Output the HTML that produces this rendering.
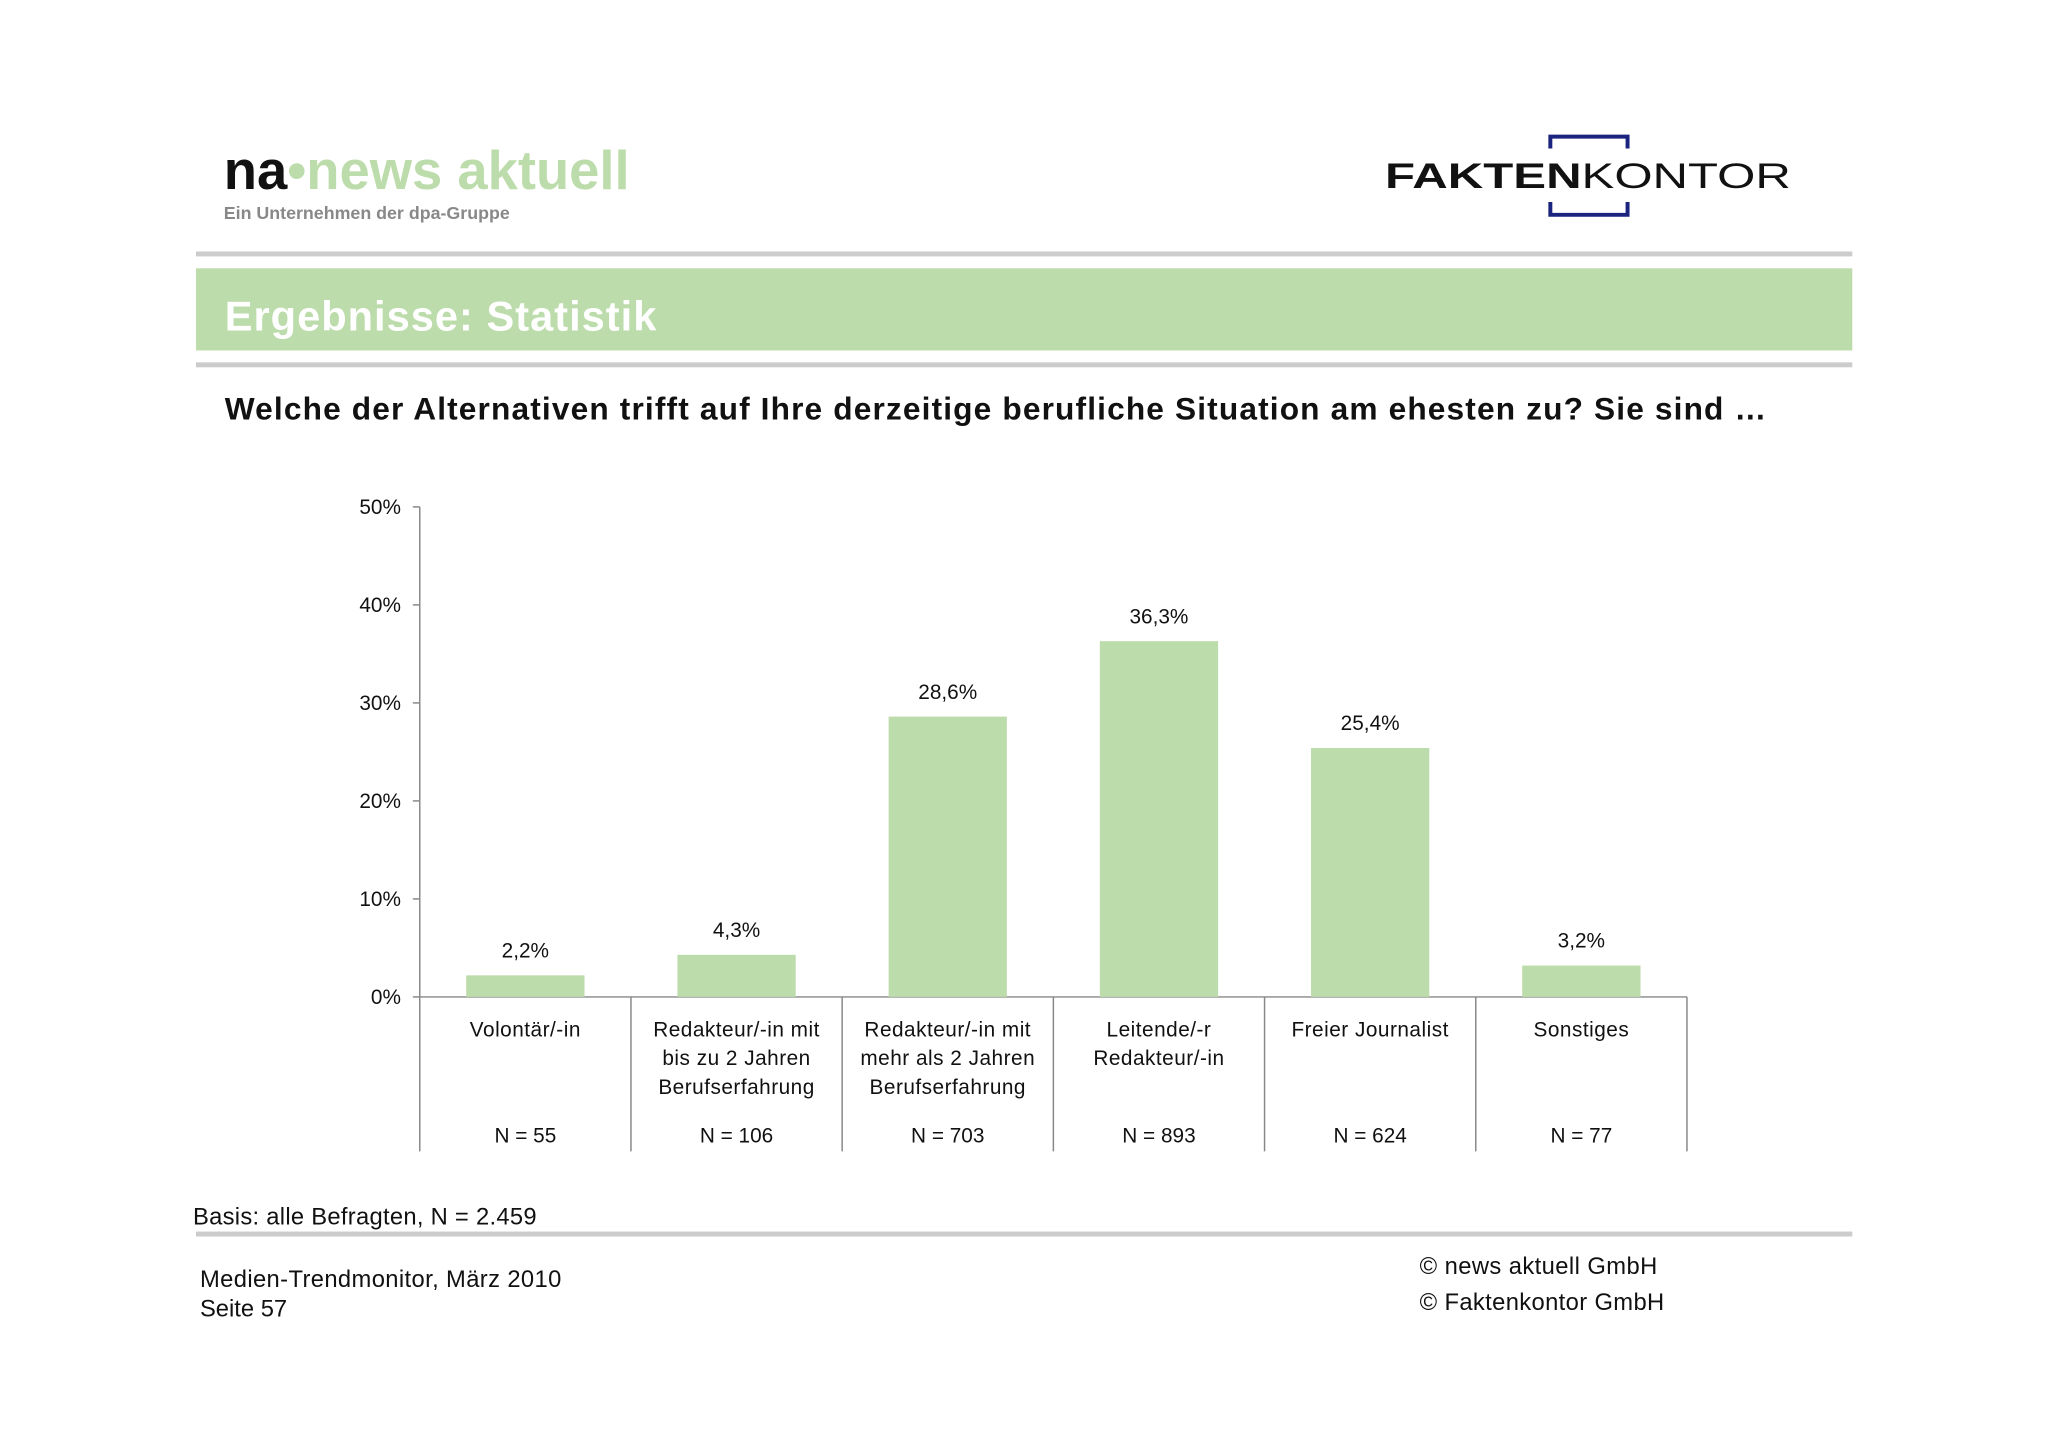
<!DOCTYPE html>
<html><head><meta charset="utf-8"><style>
body{margin:0;background:#fff;}
svg{display:block;font-family:"Liberation Sans",Arial,sans-serif;}
</style></head><body>
<svg width="2048" height="1447" viewBox="0 0 2048 1447">
<g transform="scale(0.99)">
<g>
<text x="226" y="191" font-size="55" font-weight="bold" fill="#111" textLength="410" lengthAdjust="spacingAndGlyphs">na<tspan fill="#bddcab">•news aktuell</tspan></text>
<text x="226" y="221" font-size="18" font-weight="bold" fill="#888">Ein Unternehmen der dpa-Gruppe</text>
</g>
<g>
<path d="M1566 150 V138 H1644 V150 M1566 204 V217 H1644 V204" fill="none" stroke="#1a237e" stroke-width="4"/>
<text x="1399" y="190" font-size="36" fill="#111" textLength="410" lengthAdjust="spacingAndGlyphs"><tspan font-weight="bold">FAKTEN</tspan>KONTOR</text>
</g>
<rect x="198" y="254" width="1673" height="5" fill="#cccccc"/>
<rect x="198" y="271" width="1673" height="83" fill="#bddcab"/>
<text x="227" y="334" font-size="42" font-weight="bold" fill="#fff" textLength="436">Ergebnisse: Statistik</text>
<rect x="198" y="366" width="1673" height="5" fill="#cccccc"/>
<text x="227" y="424" font-size="32" font-weight="bold" fill="#111" textLength="1557">Welche der Alternativen trifft auf Ihre derzeitige berufliche Situation am ehesten zu? Sie sind …</text>
<g id="chart"></g>
<text x="195" y="1237" font-size="24" fill="#111" textLength="347">Basis: alle Befragten, N = 2.459</text>
<rect x="198" y="1244" width="1673" height="5" fill="#cccccc"/>
<text x="202" y="1300" font-size="24" fill="#111" textLength="365">Medien-Trendmonitor, März 2010</text>
<text x="202" y="1330" font-size="24" fill="#111">Seite 57</text>
<text x="1434" y="1287" font-size="24" fill="#111" textLength="240">© news aktuell GmbH</text>
<text x="1434" y="1323" font-size="24" fill="#111" textLength="247">© Faktenkontor GmbH</text>
</g>
</svg>
<script>
const categories=[["Volontär/-in"],["Redakteur/-in mit","bis zu 2 Jahren","Berufserfahrung"],["Redakteur/-in mit","mehr als 2 Jahren","Berufserfahrung"],["Leitende/-r","Redakteur/-in"],["Freier Journalist"],["Sonstiges"]];
const values=[2.2,4.3,28.6,36.3,25.4,3.2];
const valueLabels=["2,2%","4,3%","28,6%","36,3%","25,4%","3,2%"];
const nLabels=["N = 55","N = 106","N = 703","N = 893","N = 624","N = 77"];
const yTicks=[0,10,20,30,40,50];
const yTickLabels=["0%","10%","20%","30%","40%","50%"];
const NS="http://www.w3.org/2000/svg";
const g=document.getElementById('chart');
const X0=424,X1=1704,Y0=1007,Y50=512;
const y=v=>Y0+(Y50-Y0)*v/50;
const cw=(X1-X0)/categories.length;
const xc=i=>X0+cw*(i+0.5);
function mk(t,a,p){const e=document.createElementNS(NS,t);for(const k in a)e.setAttribute(k,a[k]);(p||g).appendChild(e);return e;}
let ax=mk('line',{x1:X0,y1:Y50,x2:X0,y2:1163,stroke:'#888','stroke-width':1.5});


let bx=mk('line',{x1:X0,y1:Y0,x2:X1,y2:Y0,stroke:'#888','stroke-width':1.5});


yTicks.forEach((t,i)=>{
 let l=mk('line',{x1:X0-7,y1:y(t),x2:X0,y2:y(t),stroke:'#888','stroke-width':1.5});
 
 
 let tx=mk('text',{x:405,y:y(t)+7,'font-size':21,'text-anchor':'end',fill:'#111'});
 tx.textContent=yTickLabels[i];
 
 
});
for(let i=1;i<=categories.length;i++){
 let s=mk('line',{x1:X0+cw*i,y1:Y0,x2:X0+cw*i,y2:1163,stroke:'#888','stroke-width':1.5});
 
 
}
values.forEach((v,i)=>{
 const bw=cw*0.56;
 let r=mk('rect',{x:xc(i)-bw/2,y:y(v),width:bw,height:Y0-y(v),fill:'#bddcab'});
 
 
 let t=mk('text',{x:xc(i),y:y(v)-18,'font-size':21,'text-anchor':'middle',fill:'#111'});
 t.textContent=valueLabels[i];
 
 
 categories[i].forEach((ln,j)=>{
  let c=mk('text',{x:xc(i),y:1047+29*j,'font-size':21,'text-anchor':'middle',fill:'#111','letter-spacing':0.5});
  c.textContent=ln;
  
  
 });
 let n=mk('text',{x:xc(i),y:1154,'font-size':21,'text-anchor':'middle',fill:'#111'});
 n.textContent=nLabels[i];
 
 
});
</script>
</body></html>
